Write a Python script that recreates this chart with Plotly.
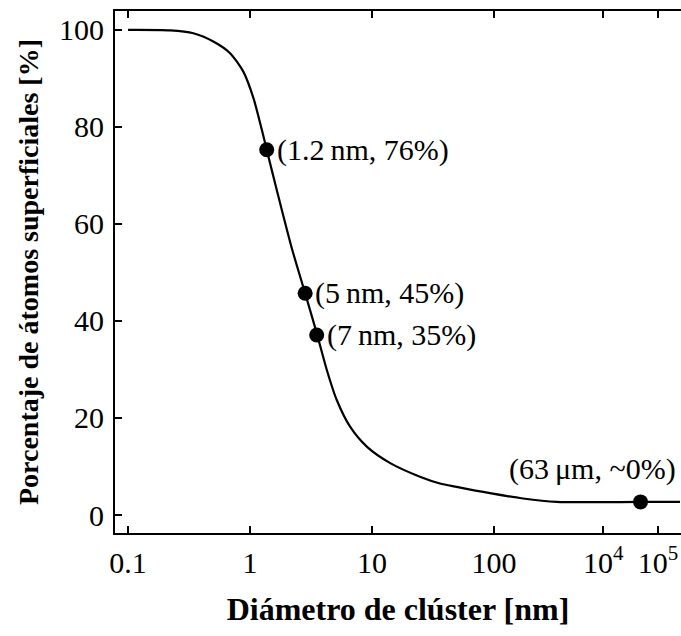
import math
import plotly.graph_objects as go

# Curve: cluster diameter (nm) and surface-atom percentage
curve_d = [0.1, 0.221, 0.343, 0.5, 0.686, 0.881, 1.065, 1.247, 1.37, 1.656, 2.2,
           2.83, 3.52, 4.26, 5.14, 6.61, 9.06, 14.1, 24.7, 36.1, 49.4, 92.7,
           340, 1400, 48000, 253000]
curve_pct = [100, 99.9, 99.3, 97.6, 95.2, 91.4, 86.0, 79.5, 75.3, 67.0, 55.0,
             45.7, 37.5, 29.9, 23.7, 18.2, 14.1, 10.7, 7.9, 6.5, 5.8, 4.5,
             3.4, 2.7, 2.7, 2.7]

# Marked points
point_d = [1.37, 2.83, 3.52, 48000]
point_pct = [75.3, 45.7, 37.1, 2.7]
point_labels = ["(1.2\u2009nm, 76%)", "(5\u2009nm, 45%)", "(7\u2009nm, 35%)", "(63\u2009μm, ~0%)"]

# Tick labels
tick_d = [0.1, 1, 10, 100, 1e4, 1e5]
tick_text = ["0.1", "1", "10", "100", "10<sup>4</sup>", "10<sup>5</sup>"]
y_ticks = [0, 20, 40, 60, 80, 100]

# The original axis is logarithmic with a compressed segment beyond 100 nm
COMPRESS = 0.448


def to_u(d):
    l = math.log10(d)
    return l if l <= 2 else 2 + (l - 2) * COMPRESS


FONT = "Liberation Serif, Times New Roman, serif"

fig = go.Figure()
fig.add_trace(go.Scatter(
    x=[to_u(d) for d in curve_d], y=curve_pct, mode="lines",
    line=dict(color="black", width=2.2, shape="spline", smoothing=0.7),
    hoverinfo="skip", showlegend=False))
fig.add_trace(go.Scatter(
    x=[to_u(d) for d in point_d], y=point_pct, mode="markers",
    marker=dict(color="black", size=15), showlegend=False))

shifts = [(8, 0, "left", "middle"), (8, 0, "left", "middle"),
          (8, 0, "left", "middle"), (37, 33, "right", "middle")]
for d, p, t, (xs, ys, xa, ya) in zip(point_d, point_pct, point_labels, shifts):
    fig.add_annotation(x=to_u(d), y=p, text=t, showarrow=False,
                       xanchor=xa, yanchor=ya, xshift=xs, yshift=ys,
                       font=dict(family=FONT, size=30, color="black"))

fig.update_xaxes(
    range=[-1.107, 3.533], tickmode="array",
    tickvals=[to_u(d) for d in tick_d], ticktext=tick_text,
    ticks="inside", ticklen=7, tickwidth=1.5, tickcolor="black",
    showline=True, linecolor="black", linewidth=2, mirror="ticks",
    showgrid=False, zeroline=False, ticklabelstandoff=2,
    tickfont=dict(family=FONT, size=30, color="black"),
    title=dict(text="<b>Diámetro de clúster [nm]</b>", standoff=20,
               font=dict(family=FONT, size=32, color="black")))
fig.update_yaxes(
    range=[-3.71, 103.9], tickmode="array", tickvals=y_ticks,
    ticks="inside", ticklen=7, tickwidth=1.5, tickcolor="black",
    showline=True, linecolor="black", linewidth=2, mirror=False,
    showgrid=False, zeroline=False, ticklabelstandoff=3,
    tickfont=dict(family=FONT, size=30, color="black"),
    title=dict(text="<b>Porcentaje de átomos superficiales [%]</b>", standoff=12,
               font=dict(family=FONT, size=28, color="black")))

fig.update_layout(
    width=681, height=636,
    margin=dict(l=115, r=0, t=11, b=103),
    paper_bgcolor="white", plot_bgcolor="white")

fig.write_html("out.html")
